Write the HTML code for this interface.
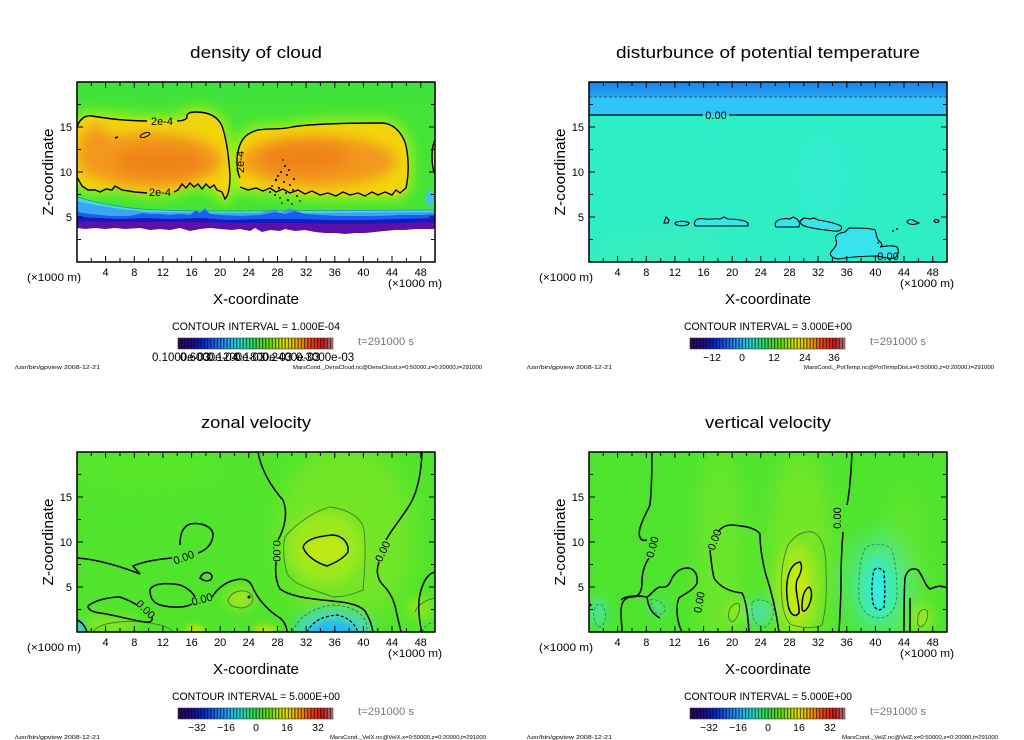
<!DOCTYPE html>
<html><head><meta charset="utf-8"><style>
html,body{margin:0;padding:0;background:#fff;}
svg{display:block;}
text{font-family:"Liberation Sans",sans-serif;fill:#000;}
</style></head><body>
<svg width="1024" height="740" viewBox="0 0 1024 740" xmlns="http://www.w3.org/2000/svg">
<defs>
<clipPath id="c1"><rect x="77" y="82" width="358" height="180"/></clipPath>
<clipPath id="c2"><rect x="589" y="82" width="358" height="180"/></clipPath>
<clipPath id="c3"><rect x="77" y="452" width="358" height="180"/></clipPath>
<clipPath id="c4"><rect x="589" y="452" width="358" height="180"/></clipPath>
<filter id="b1" x="-50%" y="-50%" width="200%" height="200%"><feGaussianBlur stdDeviation="1.2"/></filter>
<filter id="b3" x="-50%" y="-50%" width="200%" height="200%"><feGaussianBlur stdDeviation="3"/></filter>
<filter id="b6" x="-50%" y="-50%" width="200%" height="200%"><feGaussianBlur stdDeviation="6"/></filter>
<filter id="b12" x="-50%" y="-50%" width="200%" height="200%"><feGaussianBlur stdDeviation="12"/></filter>
<linearGradient id="cb" x1="0" y1="0" x2="1" y2="0">
<stop offset="0" stop-color="#2a0a50"/><stop offset="0.08" stop-color="#1a0a8a"/>
<stop offset="0.16" stop-color="#0a24d0"/><stop offset="0.25" stop-color="#1a70f0"/>
<stop offset="0.33" stop-color="#20b0f0"/><stop offset="0.40" stop-color="#20e0d0"/>
<stop offset="0.48" stop-color="#30e060"/><stop offset="0.56" stop-color="#50e020"/>
<stop offset="0.64" stop-color="#a0e010"/><stop offset="0.70" stop-color="#e0e000"/>
<stop offset="0.78" stop-color="#f0a000"/><stop offset="0.86" stop-color="#e84010"/>
<stop offset="0.93" stop-color="#d01818"/><stop offset="1" stop-color="#c07878"/>
</linearGradient>
<linearGradient id="p2top" x1="0" y1="0" x2="0" y2="1">
<stop offset="0" stop-color="#1a84ea"/><stop offset="1" stop-color="#22a6f6"/>
</linearGradient>
<pattern id="st" x="178" y="0" width="3.23" height="20" patternUnits="userSpaceOnUse"><rect width="1.2" height="20" fill="#000" fill-opacity="0.6"/></pattern>
<g id="fr" fill="none" stroke="#000">
<rect x="0" y="0" width="358" height="180" stroke-width="1.5"/>
<path stroke-width="1" d="M28.6,0v6M57.3,0v6M85.9,0v6M114.6,0v6M143.2,0v6M171.8,0v6M200.5,0v6M229.1,0v6M257.8,0v6M286.4,0v6M315,0v6M343.7,0v6M14.3,0v4M43,0v4M71.6,0v4M100.2,0v4M128.9,0v4M157.5,0v4M186.2,0v4M214.8,0v4M243.4,0v4M272.1,0v4M300.7,0v4M329.4,0v4M28.6,180v-6M57.3,180v-6M85.9,180v-6M114.6,180v-6M143.2,180v-6M171.8,180v-6M200.5,180v-6M229.1,180v-6M257.8,180v-6M286.4,180v-6M315,180v-6M343.7,180v-6M14.3,180v-4M43,180v-4M71.6,180v-4M100.2,180v-4M128.9,180v-4M157.5,180v-4M186.2,180v-4M214.8,180v-4M243.4,180v-4M272.1,180v-4M300.7,180v-4M329.4,180v-4M0,135h6M0,90h6M0,45h6M0,157.5h4M0,112.5h4M0,67.5h4M0,22.5h4M358,135h-6M358,90h-6M358,45h-6M358,157.5h-4M358,112.5h-4M358,67.5h-4M358,22.5h-4"/>
</g>
</defs>

<rect width="1024" height="740" fill="#fff"/>

<!-- ================= PANEL 1 : density of cloud ================= -->
<g clip-path="url(#c1)">
<rect x="77" y="82" width="358" height="180" fill="#44e436"/>
<rect x="77" y="82" width="358" height="18" fill="#3ce23a" filter="url(#b6)"/>
<g filter="url(#b6)" fill="#a2ee12" stroke="#a2ee12" stroke-width="10">
<path d="M77,127 C80,118 86,115 92,116 C115,119 160,122 186,119 C186,113 190,112 196,112 C210,112 218,117 222,126 C227,140 229,160 230,175 C230,188 228,196 225,199 C220,192 212,187 205,185 C195,184 185,184 175,191 C160,194 130,193 115,186 C105,190 90,192 81,186 C78,182 77,178 77,176 Z"/>
<path d="M240,187 C237,175 236,160 238,152 C240,140 246,133 258,130 C270,128 280,130 292,127 C310,124 350,123 383,123 C392,124 400,130 405,142 C409,155 409,175 406,188 C403,194 398,196 392,195 C370,195 345,196 333,195 C310,195 290,193 270,190 C258,189 248,189 240,187 Z"/>
</g>
<g filter="url(#b1)" fill="#f2d40a">
<path d="M77,127 C80,118 86,115 92,116 C115,119 160,122 186,119 C186,113 190,112 196,112 C210,112 218,117 222,126 C227,140 229,160 230,175 C230,188 228,196 225,199 C220,192 212,187 205,185 C195,184 185,184 175,191 C160,194 130,193 115,186 C105,190 90,192 81,186 C78,182 77,178 77,176 Z"/>
<path d="M240,187 C237,175 236,160 238,152 C240,140 246,133 258,130 C270,128 280,130 292,127 C310,124 350,123 383,123 C392,124 400,130 405,142 C409,155 409,175 406,188 C403,194 398,196 392,195 C370,195 345,196 333,195 C310,195 290,193 270,190 C258,189 248,189 240,187 Z"/>
<ellipse cx="438" cy="158" rx="6" ry="20"/>
</g>
<g filter="url(#b6)" fill="#f3981c">
<ellipse cx="150" cy="160" rx="72" ry="27"/>
<ellipse cx="96" cy="152" rx="18" ry="26"/>
<ellipse cx="318" cy="161" rx="78" ry="25"/>
</g>
<g filter="url(#b6)" fill="#ee8418">
<ellipse cx="160" cy="162" rx="45" ry="15"/>
<ellipse cx="305" cy="158" rx="45" ry="14"/>
</g>
<!-- lower bands -->
<path d="M77,197 C90,201 110,206 140,209 C170,211 200,211 240,211 L435,210 L435,240 L77,240 Z" fill="#40dcd8"/>
<path d="M77,201 C92,205 115,209 150,212 L200,213 L205,207 L209,213 L260,213 L275,209 L280,213 L290,208 L296,213 L435,212 L435,240 L77,240 Z" fill="#3aa4f6"/>
<path d="M77,212 L90,214 L110,216 L130,216 L143,213 L150,214 L160,214 L170,215 L180,214 L190,215 L196,210 L200,213 L205,209 L210,214 L220,215 L240,216 L260,215 L275,212 L285,214 L295,211 L305,214 L320,215 L340,216 L360,216 L380,216 L400,215 L420,215 L435,214 L435,240 L77,240 Z" fill="#1c5cee"/>
<path d="M77,217 L120,219 L143,218 L170,219 L200,218 L230,220 L260,219 L300,219 L330,220 L360,220 L400,219 L435,218 L435,240 L77,240 Z" fill="#1818c0"/>
<path d="M77,221 L110,222 L150,222 L200,222 L230,223 L260,223 L300,223 L330,224 L360,224 L400,223 L435,222 L435,240 L77,240 Z" fill="#5c10a8"/>
<path d="M77,228 L85,229 L95,228 L105,229 L115,228 L125,229 L140,228 L150,230 L160,229 L170,230 L180,228 L190,231 L200,229 L210,228 L220,229 L232,230 L240,229 L250,231 L255,228 L262,232 L270,230 L280,231 L285,229 L295,231 L305,230 L315,232 L325,233 L335,233 L345,234 L355,233 L365,233 L375,232 L385,231 L395,230 L405,230 L415,229 L425,229 L435,229 L435,262 L77,262 Z" fill="#fff"/>
<path d="M77,197 C90,201 110,206 140,209 C170,211 200,211 240,211 L435,210" fill="none" stroke="#2a8ab0" stroke-width="0.7"/>
<ellipse cx="430" cy="198" rx="4" ry="8" fill="#40c0f0"/>
<!-- contours -->
<g fill="none" stroke="#000" stroke-width="1.4">
<path d="M77,127 C80,118 86,115 92,116 C110,119 130,121 147,121 M177,121 C182,121 185,120 187,118 C186,113 190,112 196,112 C210,112 218,117 222,126 C227,140 229,160 230,175 C230,188 228,196 225,199 L222,192 L217,190 L214,185 L210,188 L206,184 L202,189 L198,184 L194,187 L190,183 L186,188 L182,184 L178,190 L174,192 M147,193 L135,192 L122,190 L115,186 L112,190 L106,189 L100,192 L95,190 L88,190 L82,186 L77,177"/>
<path d="M240,178 C237,172 236,160 238,152 C240,140 246,133 258,130 C270,128 280,130 292,127 C310,124 350,123 383,123 C392,124 400,130 405,142 C409,155 409,175 406,188 L400,193 L396,190 L392,195 L385,192 L378,195 L372,192 L365,196 L358,193 L350,195 L343,192 L336,196 L328,193 L320,195 L312,191 L305,194 L298,190 L290,193 L283,189 L276,192 L270,188 L263,191 L256,188 L248,190 L240,187"/>
<path d="M435,140 C431,148 431,165 435,175"/>
<ellipse cx="145" cy="135" rx="5" ry="2" transform="rotate(-20 145 135)" stroke-width="1"/>
</g>
<path d="M115,138 L118,137" stroke="#000" stroke-width="1.5"/>
<g fill="#000">
<circle cx="283" cy="160" r="0.8"/><circle cx="285" cy="166" r="1"/><circle cx="281" cy="172" r="1"/><circle cx="287" cy="175" r="1"/><circle cx="276" cy="180" r="1.2"/><circle cx="284" cy="182" r="1"/><circle cx="290" cy="185" r="1"/><circle cx="279" cy="188" r="1.2"/><circle cx="293" cy="190" r="1"/><circle cx="286" cy="193" r="1"/><circle cx="275" cy="195" r="1"/><circle cx="297" cy="196" r="1"/><circle cx="288" cy="200" r="1"/><circle cx="300" cy="201" r="0.8"/><circle cx="282" cy="203" r="0.8"/><circle cx="272" cy="186" r="1"/><circle cx="294" cy="179" r="1"/><circle cx="289" cy="170" r="1"/><circle cx="270" cy="192" r="1"/><circle cx="278" cy="176" r="1"/><circle cx="292" cy="204" r="0.8"/><circle cx="280" cy="198" r="0.9"/>
</g>
<text x="162" y="125" font-size="11" text-anchor="middle">2e-4</text>
<text x="160" y="196" font-size="11" text-anchor="middle">2e-4</text>
<text transform="translate(244,162) rotate(-90)" font-size="11" text-anchor="middle">2e-4</text>
</g>
<use href="#fr" transform="translate(77,82)"/>

<!-- ================= PANEL 2 : potential temperature ================= -->
<g clip-path="url(#c2)">
<rect x="589" y="82" width="358" height="180" fill="#2eeec6"/>
<g filter="url(#b12)" fill="#40eeb4" opacity="0.7">
<ellipse cx="660" cy="250" rx="70" ry="14"/>
<ellipse cx="820" cy="175" rx="30" ry="50" fill="#36ecd0"/>
</g>
<rect x="589" y="82" width="358" height="15" fill="url(#p2top)"/>
<rect x="589" y="97" width="358" height="18" fill="#2ec6f8"/>
<line x1="589" y1="97" x2="947" y2="97" stroke="#333" stroke-width="0.7" stroke-dasharray="3,2"/>
<path d="M589,115 H703 M729,115 H947" stroke="#000" stroke-width="1.2"/>
<text x="716" y="119" font-size="11" text-anchor="middle">0.00</text>
<g fill="#38e4ec" stroke="#000" stroke-width="1.1">
<path d="M664,223 L666,217 L669,220 L668,223 Z"/>
<ellipse cx="682" cy="223.5" rx="7" ry="2.2"/>
<path d="M695,222 C695,219 700,218 705,219 C710,220 715,218 720,219 L724,217 L728,219 C735,219 745,220 748,223 L748,226 L696,226 C694,225 694,223 695,222 Z"/>
<path d="M776,222 C778,219 785,218 790,219 L793,217 L797,219 C799,221 800,224 799,227 L776,227 C775,225 775,223 776,222 Z"/>
<path d="M800,221 L804,218 L810,219 L814,218 L818,220 C825,221 835,223 841,226 C843,229 840,232 834,231 C825,230 815,229 808,227 C803,226 800,224 800,221 Z"/>
<path d="M849,228 C860,228 870,228 875,230 C877,234 876,238 879,241 C882,243 883,246 880,247 C885,246 893,245 897,247 C899,250 899,254 895,258 C890,259 885,258 878,256 C865,256 850,257 838,259 C832,258 829,255 831,252 C834,248 838,245 836,240 C834,236 838,233 845,232 C847,230 848,229 849,228 Z"/>
<path d="M907,222 C908,219 913,219 914,221 C916,222 918,222 919,223 C915,225 909,225 907,222 Z"/>
<path d="M934,221 C935,219 938,219 939,221 C938,223 935,223 934,221 Z"/>
</g>
<g fill="#000"><circle cx="893" cy="231" r="1"/><circle cx="897" cy="229" r="1"/><circle cx="878" cy="243" r="0.8"/></g>
<text x="888" y="260" font-size="11" text-anchor="middle">0.00</text>
</g>
<use href="#fr" transform="translate(589,82)"/>

<!-- ================= PANEL 3 : zonal velocity ================= -->
<g clip-path="url(#c3)">
<rect x="77" y="452" width="358" height="180" fill="#50e42c"/>
<g filter="url(#b12)">
<ellipse cx="345" cy="535" rx="70" ry="90" fill="#72e626"/>
<ellipse cx="150" cy="470" rx="80" ry="20" fill="#58e62a"/>
</g>
<g filter="url(#b6)">
<ellipse cx="325" cy="548" rx="38" ry="36" fill="#9ce81c"/>
<ellipse cx="240" cy="598" rx="14" ry="10" fill="#a8e620"/>
<ellipse cx="110" cy="624" rx="30" ry="7" fill="#8ee822"/>
<ellipse cx="420" cy="608" rx="14" ry="10" fill="#8ee822"/>
<ellipse cx="333" cy="632" rx="40" ry="24" fill="#44d8c0"/>
</g>
<g filter="url(#b3)">
<ellipse cx="325" cy="550" rx="22" ry="14" fill="#bce812"/>
<ellipse cx="195" cy="630" rx="10" ry="5" fill="#c0e010"/>
<ellipse cx="265" cy="630" rx="12" ry="5" fill="#c0e010"/>
<ellipse cx="333" cy="633" rx="24" ry="12" fill="#28b8f0"/>
<ellipse cx="80" cy="627" rx="6" ry="8" fill="#40c8d0"/>
</g>
<g fill="none" stroke="#3e7a30" stroke-width="0.9">
<path d="M285,537 C290,530 310,512 330,507 C350,510 362,518 364,530 C366,545 365,570 363,590 C350,596 340,597 333,597 C315,590 292,585 287,573 C283,560 283,545 285,537 Z"/>
<path d="M93,632 C98,622 130,618 160,625 C170,628 172,630 173,632"/>
<path d="M228,600 C232,590 245,588 252,595 C255,602 250,608 240,608 C232,607 228,604 228,600 Z"/>
<path d="M435,598 C425,600 418,605 415,612"/>
</g>
<g fill="none" stroke="#000" stroke-width="1.5">
<path d="M77,558 C95,559 120,566 140,574 L133,566 C145,561 160,559 172,558"/>
<path d="M198,553 C207,550 213,543 213,534 C212,526 200,522 190,524 C182,527 180,535 180,545"/>
<path d="M258,452 C261,470 272,488 283,500 C288,512 285,528 278,540 M276,562 C275,572 276,582 280,589 C290,596 305,598 322,600 C342,602 358,603 365,611 C370,619 372,626 373,632"/>
<path d="M422,452 C421,478 416,495 409,506 C400,520 390,532 386,540 M379,562 C376,570 377,579 383,585 C390,592 394,600 396,610 C398,620 400,627 401,632"/>
<path d="M303,547 C306,539 318,536 333,535 C344,536 349,544 348,552 C343,559 335,563 327,566 C317,563 306,556 303,547 Z"/>
<path d="M88,606 C95,600 110,597 120,597 C128,600 134,603 137,605 M152,617 C153,621 150,623 145,622 C130,620 115,615 100,613 C92,612 88,610 88,606"/>
<path d="M150,590 C152,584 165,582 180,585 C188,588 193,593 195,597 M192,604 C185,608 172,608 160,605 C152,602 150,597 150,590"/>
<path d="M212,597 C218,588 226,582 235,580 C245,578 250,580 253,588 C258,600 270,612 280,618 C285,622 287,628 287,632"/>
<path d="M200,578 C203,571 210,571 212,576 C212,582 205,582 200,578 Z"/>
<path d="M77,620 C82,622 85,626 87,632"/>
<path d="M435,572 C426,574 421,586 419,600 C418,612 420,625 422,632"/>
</g>
<circle cx="249" cy="597" r="1.5" fill="#000"/>
<path d="M293,632 C296,620 310,608 333,605 C350,606 362,612 366,622 C367,627 367,630 367,632" fill="none" stroke="#207a70" stroke-width="0.9" stroke-dasharray="3,2"/>
<path d="M307,632 C312,622 322,616 337,615 C347,617 354,622 358,632" fill="none" stroke="#000" stroke-width="1.2" stroke-dasharray="3,2"/>
<path d="M422,632 C426,624 432,622 435,622" fill="none" stroke="#207a70" stroke-width="0.9" stroke-dasharray="3,2"/>
<g font-size="11" text-anchor="middle">
<text transform="translate(185,561) rotate(-20)">0.00</text>
<text transform="translate(273,551) rotate(90)">0.00</text>
<text transform="translate(386,553) rotate(-65)">0.00</text>
<text transform="translate(203,603) rotate(-15)">0.00</text>
<text transform="translate(143,612) rotate(45)">0.00</text>
</g>
</g>
<use href="#fr" transform="translate(77,452)"/>

<!-- ================= PANEL 4 : vertical velocity ================= -->
<g clip-path="url(#c4)">
<rect x="589" y="452" width="358" height="180" fill="#4ee42e"/>
<g filter="url(#b12)">
<ellipse cx="720" cy="560" rx="25" ry="110" fill="#6ae62a"/>
<ellipse cx="800" cy="560" rx="32" ry="110" fill="#74e628"/>
<ellipse cx="905" cy="570" rx="20" ry="90" fill="#62e62c"/>
<ellipse cx="878" cy="585" rx="30" ry="50" fill="#50e888"/>
</g>
<g filter="url(#b6)">
<ellipse cx="797" cy="588" rx="20" ry="45" fill="#a4e81a"/>
<ellipse cx="878" cy="588" rx="16" ry="30" fill="#36ecc8"/>
<ellipse cx="598" cy="612" rx="8" ry="14" fill="#48e4a8"/>
<ellipse cx="760" cy="612" rx="12" ry="14" fill="#50e0a0"/>
<ellipse cx="657" cy="608" rx="8" ry="8" fill="#52e09a"/>
<ellipse cx="735" cy="612" rx="10" ry="10" fill="#94e822"/>
<ellipse cx="922" cy="618" rx="10" ry="12" fill="#a0e820"/>
</g>
<g filter="url(#b3)">
<ellipse cx="798" cy="590" rx="10" ry="26" fill="#c4ec10"/>
<ellipse cx="878" cy="590" rx="8" ry="18" fill="#30eee0"/>
</g>
<g fill="none" stroke="#3e7a30" stroke-width="0.9">
<path d="M782,600 C780,580 782,560 788,545 C795,535 803,531 812,532 C822,535 826,550 826,570 C827,590 826,610 822,625 C814,629 800,628 790,624 C785,618 783,610 782,600 Z"/>
<path d="M729,612 C730,606 736,602 739,604 C741,610 737,620 732,622 C728,620 728,616 729,612 Z"/>
<path d="M918,620 C917,612 922,608 927,610 C929,616 926,626 920,627 C917,625 917,622 918,620 Z"/>
</g>
<g fill="none" stroke="#000" stroke-width="1.5">
<path d="M652,452 C652,475 651,495 650,505 C647,512 643,518 640,528 C638,536 640,542 647,540 M649,558 C645,564 642,572 642,582 C642,590 640,597 632,597 C624,597 621,603 621,612 C621,620 622,626 622,632"/>
<path d="M852,452 C851,475 849,495 847,505 M843,532 C842,545 841,560 841,580 C841,600 840,615 839,632"/>
<path d="M779,632 C776,610 771,590 766,575 C762,560 760,545 760,534 C756,528 745,526 732,525 C724,525 720,529 718,532 M710,550 C711,560 712,570 714,578 C720,588 732,592 742,593 C746,600 748,615 749,632"/>
<path d="M621,600 C625,596 635,595 647,597 C652,594 655,588 660,587 C665,588 669,587 672,578 C676,572 680,568 688,568 C695,569 698,575 697,583 C694,590 684,594 679,598 C676,605 676,620 682,632"/>
<path d="M787,583 C788,573 792,563 800,562 C803,566 801,573 797,580 C794,590 800,605 799,613 C795,618 790,615 788,605 C787,598 786,590 787,583 Z"/>
<path d="M802,607 C802,598 804,590 809,587 C813,590 812,600 808,607 C805,612 802,613 802,607 Z"/>
<path d="M904,632 C904,610 904,590 905,578 C907,570 912,567 918,570 C923,576 925,586 930,589 C937,586 942,585 947,588"/>
<path d="M910,598 L910,632"/>
<path d="M647,597 C648,606 652,614 660,618"/>
</g>
<path d="M859,600 C858,580 860,560 865,548 C872,542 885,544 891,548 C896,560 897,580 897,597 C895,610 890,617 880,618 C870,618 862,612 859,600 Z" fill="none" stroke="#2a8a6a" stroke-width="0.9" stroke-dasharray="3,2"/>
<path d="M874,570 C876,567 882,568 884,572 C885,585 885,598 884,607 C880,612 875,610 873,603 C871,592 872,580 874,570 Z" fill="none" stroke="#000" stroke-width="1.4" stroke-dasharray="3,2"/>
<g fill="none" stroke="#2a8a6a" stroke-width="0.9" stroke-dasharray="3,2">
<path d="M594,610 C596,602 602,603 604,608 C607,615 606,624 600,627 C595,626 593,618 594,610 Z"/>
<path d="M752,602 C758,598 768,600 772,605 C775,612 773,622 765,627 C756,626 752,620 752,610 Z"/>
<path d="M650,600 C655,598 663,602 665,608 C665,614 660,616 655,612 Z"/>
</g>
<circle cx="590" cy="605" r="1.5" fill="#000"/>
<g font-size="11" text-anchor="middle">
<text transform="translate(656,548) rotate(-75)">0.00</text>
<text transform="translate(718,541) rotate(-70)">0.00</text>
<text transform="translate(841,518) rotate(-90)">0.00</text>
<text transform="translate(703,603) rotate(-80)">0.00</text>
</g>
</g>
<use href="#fr" transform="translate(589,452)"/>

<!-- ================= TEXT: panel 1 ================= -->
<g>
<text x="256" y="58" font-size="17" text-anchor="middle" textLength="132" lengthAdjust="spacingAndGlyphs">density of cloud</text>
<text transform="translate(53,172) rotate(-90)" font-size="15" text-anchor="middle" textLength="87" lengthAdjust="spacingAndGlyphs">Z-coordinate</text>
<g font-size="11" text-anchor="end"><text x="72" y="131">15</text><text x="72" y="176">10</text><text x="72" y="221">5</text></g>
<g font-size="11" text-anchor="middle"><text x="105.6" y="276">4</text><text x="134.3" y="276">8</text><text x="162.9" y="276">12</text><text x="191.6" y="276">16</text><text x="220.2" y="276">20</text><text x="248.8" y="276">24</text><text x="277.5" y="276">28</text><text x="306.1" y="276">32</text><text x="334.8" y="276">36</text><text x="363.4" y="276">40</text><text x="392" y="276">44</text><text x="420.7" y="276">48</text></g>
<text x="27" y="281" font-size="11" textLength="54" lengthAdjust="spacingAndGlyphs">(×1000 m)</text>
<text x="388" y="287" font-size="11" textLength="54" lengthAdjust="spacingAndGlyphs">(×1000 m)</text>
<text x="256" y="304" font-size="15" text-anchor="middle" textLength="86" lengthAdjust="spacingAndGlyphs">X-coordinate</text>
<text x="256" y="330" font-size="11" text-anchor="middle" textLength="168" lengthAdjust="spacingAndGlyphs">CONTOUR INTERVAL = 1.000E-04</text>
<rect x="178" y="338" width="155" height="11" fill="url(#cb)"/><rect x="178" y="338" width="155" height="11" fill="url(#st)"/><rect x="178" y="338" width="155" height="11" fill="none" stroke="#444" stroke-width="0.6"/>
<text x="358" y="345" font-size="11" style="fill:#777" textLength="56" lengthAdjust="spacingAndGlyphs">t=291000 s</text>
<g font-size="11.5"><text x="152" y="361">0.1000e-03</text><text x="180" y="361">0.6000e-04</text><text x="207" y="361">0.1200e-03</text><text x="234" y="361">0.1800e-03</text><text x="262" y="361">0.2400e-03</text><text x="296" y="361">0.3000e-03</text></g>
<text x="15" y="369" font-size="5.5" textLength="85" lengthAdjust="spacingAndGlyphs">/usr/bin/gpview    2008-12-21</text>
<text x="293" y="369" font-size="5.5" textLength="189" lengthAdjust="spacingAndGlyphs">MarsCond._DensCloud.nc@DensCloud,x=0:50000,z=0:20000,t=291000</text>
</g>

<!-- ================= TEXT: panel 2 ================= -->
<g transform="translate(512,0)">
<text x="256" y="58" font-size="17" text-anchor="middle" textLength="304" lengthAdjust="spacingAndGlyphs">disturbunce of potential temperature</text>
<text transform="translate(53,172) rotate(-90)" font-size="15" text-anchor="middle" textLength="87" lengthAdjust="spacingAndGlyphs">Z-coordinate</text>
<g font-size="11" text-anchor="end"><text x="72" y="131">15</text><text x="72" y="176">10</text><text x="72" y="221">5</text></g>
<g font-size="11" text-anchor="middle"><text x="105.6" y="276">4</text><text x="134.3" y="276">8</text><text x="162.9" y="276">12</text><text x="191.6" y="276">16</text><text x="220.2" y="276">20</text><text x="248.8" y="276">24</text><text x="277.5" y="276">28</text><text x="306.1" y="276">32</text><text x="334.8" y="276">36</text><text x="363.4" y="276">40</text><text x="392" y="276">44</text><text x="420.7" y="276">48</text></g>
<text x="27" y="281" font-size="11" textLength="54" lengthAdjust="spacingAndGlyphs">(×1000 m)</text>
<text x="388" y="287" font-size="11" textLength="54" lengthAdjust="spacingAndGlyphs">(×1000 m)</text>
<text x="256" y="304" font-size="15" text-anchor="middle" textLength="86" lengthAdjust="spacingAndGlyphs">X-coordinate</text>
<text x="256" y="330" font-size="11" text-anchor="middle" textLength="168" lengthAdjust="spacingAndGlyphs">CONTOUR INTERVAL = 3.000E+00</text>
<rect x="178" y="338" width="155" height="11" fill="url(#cb)"/><rect x="178" y="338" width="155" height="11" fill="url(#st)"/><rect x="178" y="338" width="155" height="11" fill="none" stroke="#444" stroke-width="0.6"/>
<text x="358" y="345" font-size="11" style="fill:#777" textLength="56" lengthAdjust="spacingAndGlyphs">t=291000 s</text>
<g font-size="10.5" text-anchor="middle"><text x="200" y="361">−12</text><text x="230" y="361">0</text><text x="262" y="361">12</text><text x="293" y="361">24</text><text x="322" y="361">36</text></g>
<text x="15" y="369" font-size="5.5" textLength="85" lengthAdjust="spacingAndGlyphs">/usr/bin/gpview    2008-12-21</text>
<text x="292" y="369" font-size="5.5" textLength="190" lengthAdjust="spacingAndGlyphs">MarsCond._PotTemp.nc@PotTempDist,x=0:50000,z=0:20000,t=291000</text>
</g>

<!-- ================= TEXT: panel 3 ================= -->
<g transform="translate(0,370)">
<text x="256" y="58" font-size="17" text-anchor="middle" textLength="110" lengthAdjust="spacingAndGlyphs">zonal velocity</text>
<text transform="translate(53,172) rotate(-90)" font-size="15" text-anchor="middle" textLength="87" lengthAdjust="spacingAndGlyphs">Z-coordinate</text>
<g font-size="11" text-anchor="end"><text x="72" y="131">15</text><text x="72" y="176">10</text><text x="72" y="221">5</text></g>
<g font-size="11" text-anchor="middle"><text x="105.6" y="276">4</text><text x="134.3" y="276">8</text><text x="162.9" y="276">12</text><text x="191.6" y="276">16</text><text x="220.2" y="276">20</text><text x="248.8" y="276">24</text><text x="277.5" y="276">28</text><text x="306.1" y="276">32</text><text x="334.8" y="276">36</text><text x="363.4" y="276">40</text><text x="392" y="276">44</text><text x="420.7" y="276">48</text></g>
<text x="27" y="281" font-size="11" textLength="54" lengthAdjust="spacingAndGlyphs">(×1000 m)</text>
<text x="388" y="287" font-size="11" textLength="54" lengthAdjust="spacingAndGlyphs">(×1000 m)</text>
<text x="256" y="304" font-size="15" text-anchor="middle" textLength="86" lengthAdjust="spacingAndGlyphs">X-coordinate</text>
<text x="256" y="330" font-size="11" text-anchor="middle" textLength="168" lengthAdjust="spacingAndGlyphs">CONTOUR INTERVAL = 5.000E+00</text>
<rect x="178" y="338" width="155" height="11" fill="url(#cb)"/><rect x="178" y="338" width="155" height="11" fill="url(#st)"/><rect x="178" y="338" width="155" height="11" fill="none" stroke="#444" stroke-width="0.6"/>
<text x="358" y="345" font-size="11" style="fill:#777" textLength="56" lengthAdjust="spacingAndGlyphs">t=291000 s</text>
<g font-size="10.5" text-anchor="middle"><text x="197" y="361">−32</text><text x="226" y="361">−16</text><text x="256" y="361">0</text><text x="287" y="361">16</text><text x="318" y="361">32</text></g>
<text x="15" y="369" font-size="5.5" textLength="85" lengthAdjust="spacingAndGlyphs">/usr/bin/gpview    2008-12-21</text>
<text x="330" y="369" font-size="5.5" textLength="156" lengthAdjust="spacingAndGlyphs">MarsCond._VelX.nc@VelX,x=0:50000,z=0:20000,t=291000</text>
</g>

<!-- ================= TEXT: panel 4 ================= -->
<g transform="translate(512,370)">
<text x="256" y="58" font-size="17" text-anchor="middle" textLength="126" lengthAdjust="spacingAndGlyphs">vertical velocity</text>
<text transform="translate(53,172) rotate(-90)" font-size="15" text-anchor="middle" textLength="87" lengthAdjust="spacingAndGlyphs">Z-coordinate</text>
<g font-size="11" text-anchor="end"><text x="72" y="131">15</text><text x="72" y="176">10</text><text x="72" y="221">5</text></g>
<g font-size="11" text-anchor="middle"><text x="105.6" y="276">4</text><text x="134.3" y="276">8</text><text x="162.9" y="276">12</text><text x="191.6" y="276">16</text><text x="220.2" y="276">20</text><text x="248.8" y="276">24</text><text x="277.5" y="276">28</text><text x="306.1" y="276">32</text><text x="334.8" y="276">36</text><text x="363.4" y="276">40</text><text x="392" y="276">44</text><text x="420.7" y="276">48</text></g>
<text x="27" y="281" font-size="11" textLength="54" lengthAdjust="spacingAndGlyphs">(×1000 m)</text>
<text x="388" y="287" font-size="11" textLength="54" lengthAdjust="spacingAndGlyphs">(×1000 m)</text>
<text x="256" y="304" font-size="15" text-anchor="middle" textLength="86" lengthAdjust="spacingAndGlyphs">X-coordinate</text>
<text x="256" y="330" font-size="11" text-anchor="middle" textLength="168" lengthAdjust="spacingAndGlyphs">CONTOUR INTERVAL = 5.000E+00</text>
<rect x="178" y="338" width="155" height="11" fill="url(#cb)"/><rect x="178" y="338" width="155" height="11" fill="url(#st)"/><rect x="178" y="338" width="155" height="11" fill="none" stroke="#444" stroke-width="0.6"/>
<text x="358" y="345" font-size="11" style="fill:#777" textLength="56" lengthAdjust="spacingAndGlyphs">t=291000 s</text>
<g font-size="10.5" text-anchor="middle"><text x="197" y="361">−32</text><text x="226" y="361">−16</text><text x="256" y="361">0</text><text x="287" y="361">16</text><text x="318" y="361">32</text></g>
<text x="15" y="369" font-size="5.5" textLength="85" lengthAdjust="spacingAndGlyphs">/usr/bin/gpview    2008-12-21</text>
<text x="330" y="369" font-size="5.5" textLength="156" lengthAdjust="spacingAndGlyphs">MarsCond._VelZ.nc@VelZ,x=0:50000,z=0:20000,t=291000</text>
</g>
</svg>
</body></html>
